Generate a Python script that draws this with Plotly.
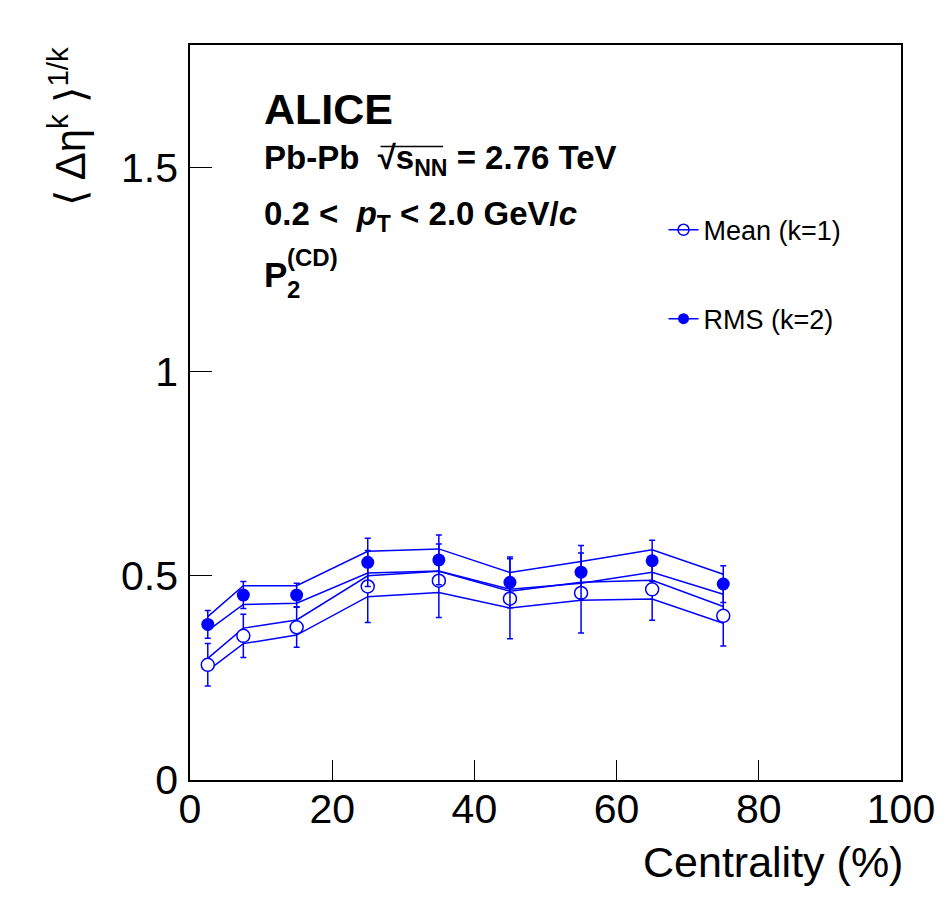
import plotly.graph_objects as go

# centrality bin centres (%)
centrality = [2.5, 7.5, 15, 25, 35, 45, 55, 65, 75]

# Mean (k=1)
mean_val = [0.282, 0.353, 0.374, 0.474, 0.488, 0.444, 0.458, 0.467, 0.402]
mean_stat = [0.052, 0.053, 0.049, 0.088, 0.090, 0.098, 0.098, 0.076, 0.074]
mean_sys_hi = [0.298, 0.372, 0.392, 0.500, 0.511, 0.462, 0.484, 0.489, 0.425]
mean_sys_lo = [0.268, 0.334, 0.355, 0.449, 0.459, 0.421, 0.440, 0.443, 0.384]

# RMS (k=2)
rms_val = [0.381, 0.453, 0.453, 0.533, 0.539, 0.484, 0.509, 0.537, 0.480]
rms_stat = [0.034, 0.033, 0.029, 0.059, 0.061, 0.062, 0.065, 0.050, 0.045]
rms_sys_hi = [0.400, 0.476, 0.476, 0.560, 0.566, 0.508, 0.535, 0.564, 0.504]
rms_sys_lo = [0.366, 0.430, 0.433, 0.507, 0.512, 0.467, 0.482, 0.509, 0.455]

x_ticks = [0, 20, 40, 60, 80, 100]
y_ticks = [0, 0.5, 1, 1.5]

BLUE = "#0000ff"
FONT = "Liberation Sans"

fig = go.Figure()

# systematic bands drawn as upper/lower lines
for band in (mean_sys_hi, mean_sys_lo, rms_sys_hi, rms_sys_lo):
    fig.add_trace(go.Scatter(
        x=centrality, y=band, mode="lines",
        line=dict(color=BLUE, width=1.5),
        showlegend=False, hoverinfo="skip"
    ))

fig.add_trace(go.Scatter(
    x=centrality, y=mean_val, mode="markers", name="Mean (k=1)",
    marker=dict(symbol="circle", size=13, color="white",
                line=dict(color=BLUE, width=1.5)),
    error_y=dict(type="data", array=mean_stat, color=BLUE,
                 thickness=1.5, width=3),
    showlegend=False
))
fig.add_trace(go.Scatter(
    x=centrality, y=rms_val, mode="markers", name="RMS (k=2)",
    marker=dict(symbol="circle", size=13, color=BLUE),
    error_y=dict(type="data", array=rms_stat, color=BLUE,
                 thickness=1.5, width=3),
    showlegend=False
))

# legend entries (two separate legends, like the ROOT layout)
fig.add_trace(go.Scatter(
    x=[None], y=[None], mode="lines+markers", name="Mean (k=1)",
    line=dict(color=BLUE, width=1.5),
    marker=dict(symbol="circle-open", size=11, color=BLUE,
                line=dict(width=1.5)),
    legend="legend"
))
fig.add_trace(go.Scatter(
    x=[None], y=[None], mode="lines+markers", name="RMS (k=2)",
    line=dict(color=BLUE, width=1.5),
    marker=dict(symbol="circle", size=11, color=BLUE),
    legend="legend2"
))

axis_common = dict(
    showline=True, linecolor="black", linewidth=1.5, mirror=True,
    ticks="inside", tickcolor="black", tickwidth=1.2,
    showgrid=False, zeroline=False,
    tickfont=dict(family=FONT, size=41, color="black"),
)

fig.update_xaxes(range=[0, 100], tickvals=x_ticks, ticklen=20,
                 ticklabelstandoff=-8, **axis_common)
fig.update_yaxes(range=[0, 1.8], tickvals=y_ticks, ticklen=22,
                 ticklabelstandoff=2, **axis_common)

legend_common = dict(
    font=dict(family=FONT, size=27, color="black"),
    bgcolor="rgba(0,0,0,0)", borderwidth=0,
    xanchor="left", yanchor="middle", itemwidth=30,
)

# the page puts the figure 8 px in from the top-left corner
fig.update_layout(
    width=942, height=910,
    margin=dict(l=182, r=49, t=37, b=138),
    paper_bgcolor="white", plot_bgcolor="white",
    font=dict(family=FONT, color="black"),
    legend=dict(x=0.666, y=0.748, **legend_common),
    legend2=dict(x=0.666, y=0.627, **legend_common),
)

bold = dict(family=FONT, size=33, color="black", weight="bold")
notes = [
    ("ALICE", 0.9128, dict(family=FONT, size=43, color="black", weight="bold")),
    ("Pb-Pb\u00a0\u00a0\u221as<sub>NN</sub> = 2.76 TeV", 0.843, bold),
    ("0.2 &lt;\u00a0 <i>p</i><sub>T</sub> &lt; 2.0 GeV/<i>c</i>", 0.768, bold),
]
for text, ypos, fnt in notes:
    fig.add_annotation(text=text, xref="paper", yref="paper",
                       x=0.1006, y=ypos, xanchor="left", yanchor="middle",
                       showarrow=False, font=fnt)

# overbar of the square root
fig.add_shape(type="line", xref="paper", yref="paper",
              x0=0.268, x1=0.356, y0=0.862, y1=0.862,
              line=dict(color="black", width=1.5))

# P_2^(CD): base letter, superscript and subscript stacked
fig.add_annotation(text="P", xref="paper", yref="paper", x=0.1006, y=0.688,
                   xanchor="left", yanchor="middle", showarrow=False,
                   font=dict(family=FONT, size=35, color="black", weight="bold"))
fig.add_annotation(text="(CD)", xref="paper", yref="paper", x=0.1335, y=0.711,
                   xanchor="left", yanchor="middle", showarrow=False,
                   font=dict(family=FONT, size=24, color="black", weight="bold"))
fig.add_annotation(text="2", xref="paper", yref="paper", x=0.1335, y=0.668,
                   xanchor="left", yanchor="middle", showarrow=False,
                   font=dict(family=FONT, size=24, color="black", weight="bold"))

# axis titles placed at the axis ends
fig.add_annotation(text="Centrality (%)", xref="paper", yref="paper",
                   x=1.006, y=-0.1117, xanchor="right", yanchor="middle",
                   showarrow=False, font=dict(family=FONT, size=43, color="black"))
fig.add_annotation(text="\u27e8 \u0394\u03b7<sup>k</sup> \u27e9<sup>1/k</sup>",
                   xref="paper", yref="paper", x=-0.132, y=1.0,
                   xanchor="right", yanchor="top", textangle=-90,
                   showarrow=False, font=dict(family=FONT, size=42, color="black"))

fig.write_html("out.html")
